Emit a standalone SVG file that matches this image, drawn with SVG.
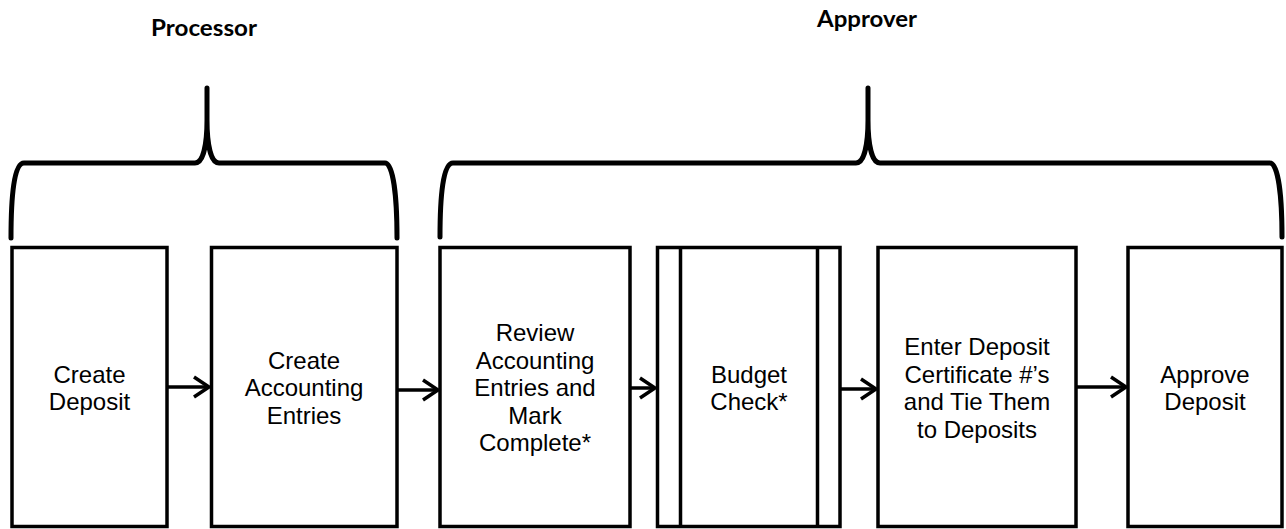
<svg xmlns="http://www.w3.org/2000/svg" width="1286" height="529" viewBox="0 0 1286 529">
  <style>
    .box { fill: #ffffff; stroke: #000000; stroke-width: 3.5; }
    .bar { fill: none; stroke: #000000; stroke-width: 3.5; }
    .brace { fill: none; stroke: #000000; stroke-width: 5; stroke-linecap: round; stroke-linejoin: round; }
    .label { font-family: "Liberation Sans", Arial, sans-serif; font-size: 24px; fill: #000000; text-anchor: middle; }
    .role { font-family: Lato, "Open Sans", sans-serif; font-weight: 700; font-size: 23px; fill: #000000; text-anchor: middle; }
    .flow { fill: none; stroke: #000000; stroke-width: 3.5; }
  </style>
  <defs>
    <marker id="head" markerUnits="userSpaceOnUse" viewBox="-18 -12 20 24" refX="0" refY="0" markerWidth="20" markerHeight="24" orient="auto" overflow="visible">
      <path d="M -15 -10 L 0 0 L -15 10" fill="none" stroke="#000000" stroke-width="3.5" stroke-linecap="butt" stroke-linejoin="miter"/>
    </marker>
  </defs>

  <rect width="1286" height="529" fill="#ffffff"/>

  <!-- role headings and braces -->
  <g id="processor">
    <text class="role" x="204" y="36" textLength="106" lengthAdjust="spacingAndGlyphs">Processor</text>
    <path class="brace" d="M 11 238 C 11 196 14 163 24 163 L 195 163 C 203 163 207 145 207 120 L 207 88 M 207 120 C 207 145 211 163 219 163 L 385 163 C 393 163 397 196 397 238"/>
  </g>
  <g id="approver">
    <text class="role" x="867" y="27" textLength="100" lengthAdjust="spacingAndGlyphs">Approver</text>
    <path class="brace" d="M 440 237 C 440 196 443 163 453 163 L 856 163 C 864 163 868 145 868 120 L 868 88 M 868 120 C 868 145 872 163 880 163 L 1270 163 C 1278 163 1282 196 1282 237"/>
  </g>

  <!-- process steps -->
  <g id="create-deposit">
    <rect class="box" x="12" y="247.5" width="155" height="279"/>
    <text class="label"><tspan x="89.5" y="382.5">Create</tspan><tspan x="89.5" y="410">Deposit</tspan></text>
  </g>
  <g id="create-accounting-entries">
    <rect class="box" x="211.5" y="247.5" width="185.5" height="279"/>
    <text class="label"><tspan x="304" y="368.5">Create</tspan><tspan x="304" y="396">Accounting</tspan><tspan x="304" y="423.5">Entries</tspan></text>
  </g>
  <g id="review-entries">
    <rect class="box" x="440" y="247.5" width="190" height="279"/>
    <text class="label"><tspan x="535" y="341">Review</tspan><tspan x="535" y="368.5">Accounting</tspan><tspan x="535" y="396">Entries and</tspan><tspan x="535" y="423.5">Mark</tspan><tspan x="535" y="451">Complete*</tspan></text>
  </g>
  <g id="budget-check">
    <rect class="box" x="657.5" y="247.5" width="182.5" height="279"/>
    <path class="bar" d="M 680.5 247.5 L 680.5 526.5 M 817.5 247.5 L 817.5 526.5"/>
    <text class="label"><tspan x="749" y="382.5">Budget</tspan><tspan x="749" y="410">Check*</tspan></text>
  </g>
  <g id="enter-certificates">
    <rect class="box" x="878" y="247.5" width="198" height="279"/>
    <text class="label"><tspan x="977" y="355">Enter Deposit</tspan><tspan x="977" y="382.5">Certificate #’s</tspan><tspan x="977" y="410">and Tie Them</tspan><tspan x="977" y="437.5">to Deposits</tspan></text>
  </g>
  <g id="approve-deposit">
    <rect class="box" x="1128" y="247.5" width="154" height="279"/>
    <text class="label"><tspan x="1205" y="382.5">Approve</tspan><tspan x="1205" y="410">Deposit</tspan></text>
  </g>

  <!-- connectors -->
  <g id="connectors">
    <path class="flow" d="M 167 387 L 209 387" stroke-width="5.5" marker-end="url(#head)"/>
    <path class="flow" d="M 397 390 L 438 390" marker-end="url(#head)"/>
    <path class="flow" d="M 630 388 L 655 388" marker-end="url(#head)"/>
    <path class="flow" d="M 840 389 L 876 389" marker-end="url(#head)"/>
    <path class="flow" d="M 1076 387 L 1126 387" marker-end="url(#head)"/>
  </g>
</svg>
